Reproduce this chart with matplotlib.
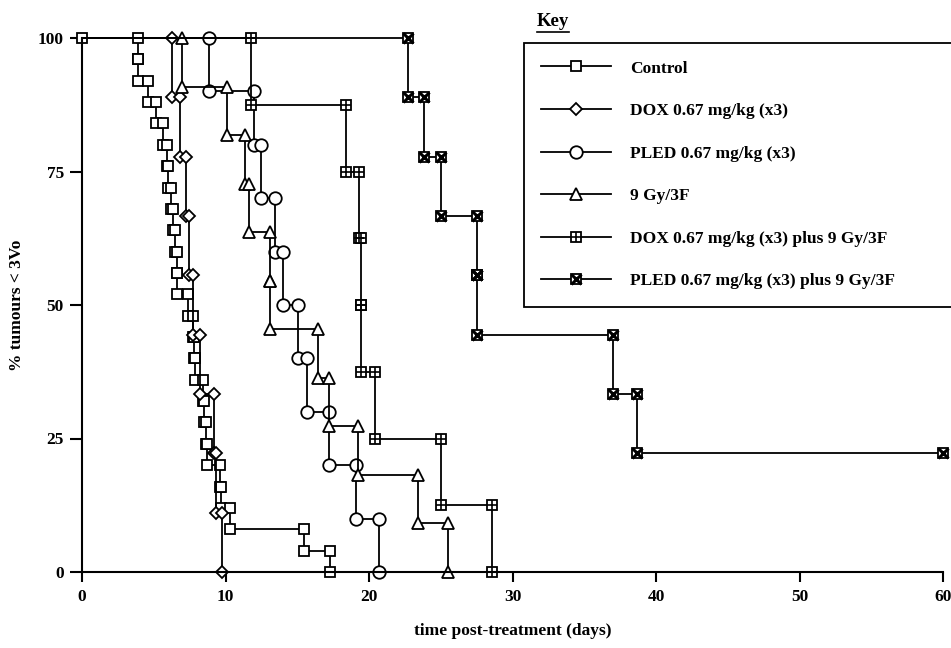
import matplotlib
matplotlib.use("Agg")
import matplotlib.pyplot as plt
from matplotlib.lines import Line2D

plt.rcParams['font.family'] = ['Liberation Serif', 'DejaVu Serif']
plt.rcParams['font.weight'] = 'bold'
plt.rcParams['axes.labelweight'] = 'bold'
plt.rcParams['font.size'] = 12.5

# event times (days) and % remaining after each step
control_t = [3.92, 3.92, 4.62, 5.16, 5.67, 5.90, 6.01, 6.18, 6.36, 6.50, 6.60, 6.60, 7.40,
             7.75, 7.82, 7.90, 8.45, 8.50, 8.62, 8.69, 9.65, 9.72, 10.30, 15.50, 17.30]
control_s = [96, 92, 88, 84, 80, 76, 72, 68, 64, 60, 56, 52, 48,
             44, 40, 36, 32, 28, 24, 20, 16, 12, 8, 4, 0]

dox_t = [6.25, 6.84, 7.25, 7.48, 7.75, 8.20, 9.20, 9.35, 9.75]
dox_s = [88.9, 77.8, 66.7, 55.6, 44.4, 33.3, 22.2, 11.1, 0]

pled_t = [8.87, 11.99, 12.45, 13.45, 14.03, 15.03, 15.70, 17.21, 19.07, 20.70]
pled_s = [90, 80, 70, 60, 50, 40, 30, 20, 10, 0]

gy_t = [6.95, 10.08, 11.35, 11.65, 13.10, 13.10, 16.47, 17.20, 19.20, 23.40, 25.50]
gy_s = [90.9, 81.8, 72.7, 63.6, 54.5, 45.5, 36.4, 27.3, 18.2, 9.1, 0]

doxrt_t = [11.78, 18.37, 19.30, 19.44, 19.44, 20.42, 25.00, 28.60]
doxrt_s = [87.5, 75, 62.5, 50, 37.5, 25, 12.5, 0]

pledrt_t = [22.75, 23.80, 25.00, 27.50, 27.50, 37.00, 38.70]
pledrt_s = [88.9, 77.8, 66.7, 55.6, 44.4, 33.3, 22.2]
pledrt_end = 60

labels = ["Control", "DOX 0.67 mg/kg (x3)", "PLED 0.67 mg/kg (x3)", "9 Gy/3F",
          "DOX 0.67 mg/kg (x3) plus 9 Gy/3F", "PLED 0.67 mg/kg (x3) plus 9 Gy/3F"]


# Builds the corner points of a step curve starting at (0, 100)
def corners(times, surv, end=None):
    xs, ys = [0], [100]
    prev = 100
    for t, s in zip(times, surv):
        xs += [t, t]
        ys += [prev, s]
        prev = s
    if end is not None:
        xs.append(end)
        ys.append(prev)
    return xs, ys


fig = plt.figure(figsize=(9.51, 6.48), dpi=100)
ax = fig.add_axes([82 / 951, 1 - 572 / 648, 861 / 951, 534 / 648])

lw = 1.3
common = dict(color='black', lw=lw, clip_on=False, markeredgewidth=1.3)
skip0 = slice(1, None)

handles = []

# Control (marker at origin too)
x, y = corners(control_t, control_s)
h = ax.plot(x, y, marker='s', ms=7.5, mfc='white', mec='black', **common)[0]
handles.append(h)

x, y = corners(dox_t, dox_s)
h = ax.plot(x, y, marker='D', ms=6.5, mfc='white', mec='black', markevery=skip0, **common)[0]
handles.append(h)

x, y = corners(pled_t, pled_s)
h = ax.plot(x, y, marker='o', ms=9, mfc='white', mec='black', markevery=skip0, **common)[0]
handles.append(h)

x, y = corners(gy_t, gy_s)
h = ax.plot(x, y, marker='^', ms=9, mfc='white', mec='black', markevery=skip0, **common)[0]
handles.append(h)

# square with a plus inside
x, y = corners(doxrt_t, doxrt_s)
h1 = ax.plot(x, y, marker='s', ms=7.5, mfc='white', mec='black', markevery=skip0, **common)[0]
h2 = ax.plot(x[1:], y[1:], ls='none', marker='+', ms=7.5, mec='black', mew=1.2, clip_on=False)[0]
handles.append((h1, h2))

# square with a cross inside
x, y = corners(pledrt_t, pledrt_s, pledrt_end)
h1 = ax.plot(x, y, marker='s', ms=7.5, mfc='white', mec='black', markevery=skip0, **common)[0]
h2 = ax.plot(x[1:], y[1:], ls='none', marker='x', ms=7.5, mec='black', mew=2.2, clip_on=False)[0]
handles.append((h1, h2))

ax.set_xlim(0, 60)
ax.set_ylim(0, 100)
ax.set_xticks([0, 10, 20, 30, 40, 50, 60])
ax.set_yticks([0, 25, 50, 75, 100])
for s in ['top', 'right']:
    ax.spines[s].set_visible(False)
for s in ['left', 'bottom']:
    ax.spines[s].set_linewidth(1.5)
ax.tick_params(axis='x', direction='out', length=7, width=1.5, pad=5)
ax.tick_params(axis='y', direction='out', length=9, width=1.5, pad=4)

ax.set_xlabel("time post-treatment (days)", fontweight='bold')
ax.xaxis.set_label_coords(0.5, -0.095)
ax.set_ylabel("% tumours < 3Vo", fontweight='bold')
ax.yaxis.set_label_coords(-0.066, 0.5)

leg = ax.legend(handles, labels, loc='upper left',
                bbox_to_anchor=(524 / 951, 1 - 43 / 648, 0.6, 0),
                bbox_transform=fig.transFigure, mode='expand',
                fancybox=False, edgecolor='black', framealpha=1,
                borderpad=1.0, borderaxespad=0, labelspacing=1.52,
                handlelength=4.0, handletextpad=1.1, numpoints=1,
                prop={'family': 'Liberation Serif', 'weight': 'bold', 'size': 12.5})
leg.get_frame().set_linewidth(1.3)

# "Key" title above the box, underlined
key = fig.text(537 / 951, 1 - 22 / 648, "Key", ha='left', va='center', fontsize=13.5, weight='bold')
fig.canvas.draw()
bb = key.get_window_extent().transformed(fig.transFigure.inverted())
fig.add_artist(Line2D([bb.x0, bb.x1], [bb.y0 - 0.002, bb.y0 - 0.002], color='black',
                      lw=1.2, transform=fig.transFigure))

fig.savefig("out.png", dpi=100)
